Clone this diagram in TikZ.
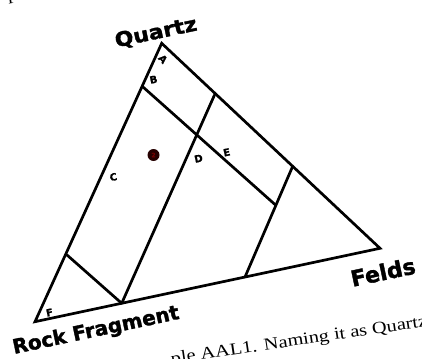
\documentclass[tikz,border=0pt]{standalone}
\usepackage{fontspec}
\setmainfont{Liberation Serif}
\newfontfamily\lblfont{DejaVu Sans Bold}[FakeBold=1.6]
\newfontfamily\smallfont{DejaVu Sans Bold}[FakeBold=1]
\usetikzlibrary{calc}
\begin{document}
\begin{tikzpicture}[x=1pt,y=-1pt,
  side/.style={line width=2.7pt, line join=miter, line cap=round},
  big/.style={font=\lblfont\fontsize{20}{20}\selectfont, rotate=12, inner sep=0pt},
  small/.style={font=\smallfont\fontsize{10}{10}\selectfont, rotate=12, inner sep=0pt},
  body/.style={font=\fontsize{17}{17}\selectfont, rotate=8.5, inner sep=0pt, xscale=1.2}]
\useasboundingbox (0,0) rectangle (422,358);
\clip (0,0) rectangle (422,358);
\fill[white] (0,0) rectangle (422,358);
% vertices
\coordinate (Q) at (161.7,43.3);
\coordinate (R) at (35,321.7);
\coordinate (F) at (380,248.3);
% points on the sides
\coordinate (L1) at (143,87);
\coordinate (L2) at (67,255);
\coordinate (S1) at (214.5,95);
\coordinate (S2) at (292.5,166.7);
\coordinate (B1) at (121.7,303.3);
\coordinate (B2) at (245,277);
\coordinate (X) at ($(S2)!0.35!(B2)$);
% triangle and field boundaries
\draw[side] (Q) -- (R) -- (F) -- cycle;
\draw[side] (L1) -- (X);
\draw[side] (S1) -- (B1);
\draw[side] (S2) -- (B2);
\draw[side] (L2) -- (B1);
% sample point
\node[circle, fill=black!85!red, minimum size=12pt, inner sep=0pt,
      font=\smallfont\fontsize{6}{6}\selectfont, text=black!55!red] (pt) at (153.5,155) {2};
% field labels
\node[small, rotate=-60] (la) at (163,59) {A};
\node[small] (lb) at (153.5,79.5) {B};
\node[small] (lc) at (113.3,177) {C};
\node[small] (ld) at (198.5,158.5) {D};
\node[small] (le) at (226.7,152.3) {E};
\node[small] (lf) at (49.5,312.5) {F};
% pole labels
\node[big, xscale=1.1] (tq) at (156,33) {Quartz};
\node[big] (tr) at (96,331) {Rock Fragment};
\node[big, font=\lblfont\fontsize{22}{22}\selectfont] (tf) at (383,272) {Felds};
% page text
\node[body, anchor=base east] (tx) at (428,326) {ple AAL1. Naming it as Quartz};
\node[body, anchor=base west] (tp) at (8,1) {p};
\end{tikzpicture}
\end{document}
